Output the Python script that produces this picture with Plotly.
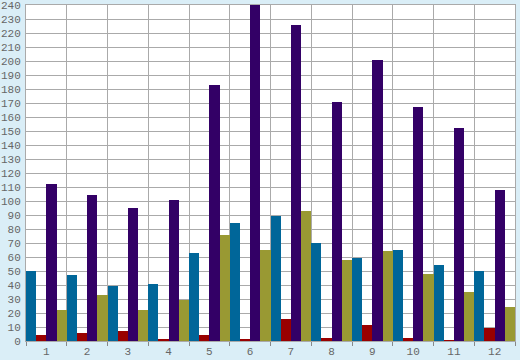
import plotly.graph_objects as go

categories = [str(i) for i in range(1, 13)]
series_blue = [50, 47, 39, 41, 63, 84, 89, 70, 59, 65, 54, 50]
series_red = [4, 6, 7, 1, 4, 1.5, 16, 2, 11.5, 2, 0.5, 9]
series_purple = [112, 104, 95, 101, 183, 240, 226, 171, 201, 167, 152, 108]
series_olive = [22, 33, 22, 29, 76, 65, 93, 58, 64, 48, 35, 24]
y_ticks = list(range(0, 241, 10))

colors = ["#006699", "#990000", "#330066", "#999933"]
fig = go.Figure()
for vals, c in zip([series_blue, series_red, series_purple, series_olive], colors):
    fig.add_trace(go.Bar(x=categories, y=vals, marker=dict(color=c, line=dict(width=0)),
                         hoverinfo="skip"))

tick_font = dict(family="Liberation Mono, DejaVu Sans Mono, monospace", size=11, color="#666666")
fig.update_layout(
    width=520, height=360,
    margin=dict(l=26, r=5, t=5, b=19),
    paper_bgcolor="#daeef7",
    plot_bgcolor="#ffffff",
    barmode="group", bargap=0, bargroupgap=0,
    showlegend=False,
    xaxis=dict(type="category", tickson="boundaries", showgrid=True, gridcolor="#aaaaaa",
               gridwidth=1, ticks="outside", ticklen=4, tickcolor="#888888",
               showline=True, linecolor="#aaaaaa", mirror=True, automargin=False,
               ticklabelstandoff=0, ticklabeloverflow="allow",
               tickfont=tick_font, zeroline=False),
    yaxis=dict(range=[0, 240], tickvals=y_ticks, ticktext=[str(v) for v in y_ticks],
               showgrid=True, gridcolor="#aaaaaa", gridwidth=1, ticks="",
               ticklabelstandoff=2, automargin=False, ticklabeloverflow="allow",
               showline=True, linecolor="#aaaaaa", mirror=True,
               tickfont=tick_font, zeroline=False),
)
fig.write_html("out.html", config={"displayModeBar": False},
               post_script="document.body.style.margin='0';document.body.style.padding='0';document.body.style.overflow='hidden';")
